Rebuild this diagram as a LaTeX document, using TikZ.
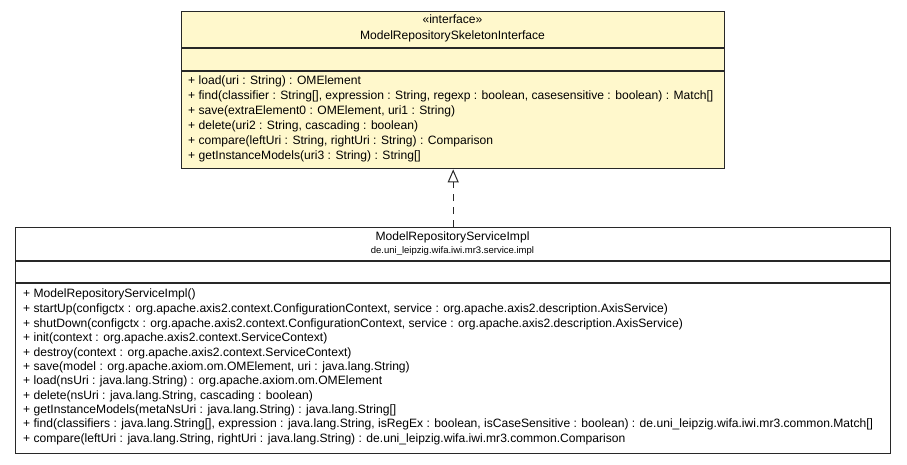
\documentclass[tikz,border=0pt]{standalone}
\usepackage{fontspec}
\setmainfont{Liberation Sans}
\usetikzlibrary{arrows.meta}
\definecolor{ifacefill}{RGB}{255,248,204}
\definecolor{boxline}{RGB}{40,40,40}
\begin{document}
\begin{tikzpicture}[x=1pt,y=-1pt,
  umlbox/.style={draw=boxline, line width=1.4pt, rectangle, inner sep=0pt, anchor=north west},
  sep/.style={draw=boxline, line width=1.4pt},
  member/.style={anchor=west, inner sep=0pt, font=\fontsize{12.1}{13}\selectfont},
  title/.style={anchor=center, inner sep=0pt, font=\fontsize{12.1}{13}\selectfont},
  pkg/.style={anchor=center, inner sep=0pt, font=\fontsize{9.5}{10}\selectfont},
  realize/.style={draw=boxline, line width=1pt, dash pattern=on 7pt off 6pt, -{Triangle[open, length=13pt, width=11pt, line width=1pt]}}
]
\useasboundingbox[fill=white] (0,0) rectangle (907,464);
% interface box
\node[umlbox, fill=ifacefill, minimum width=543pt, minimum height=157pt] (iface) at (181,11) {};
\draw[sep] (181,48) coordinate (ia) -- (724,48) coordinate (ib);
\draw[sep] (181,71) coordinate (ic) -- (724,71) coordinate (id);
\node[title] (ist) at (452.5,19) {«interface»};
\node[title] (iname) at (452.5,36) {ModelRepositorySkeletonInterface};
\node[member] (im1) at (188,81) {+ load(uri : String) : OMElement};
\node[member] (im2) at (188,96) {+ find(classifier : String[], expression : String, regexp : boolean, casesensitive : boolean) : Match[]};
\node[member] (im3) at (188,111) {+ save(extraElement0 : OMElement, uri1 : String)};
\node[member] (im4) at (188,126) {+ delete(uri2 : String, cascading : boolean)};
\node[member] (im5) at (188,141) {+ compare(leftUri : String, rightUri : String) : Comparison};
\node[member] (im6) at (188,156) {+ getInstanceModels(uri3 : String) : String[]};
% implementation box
\node[umlbox, fill=white, minimum width=875pt, minimum height=226pt] (impl) at (15,227) {};
\draw[sep] (15,261) coordinate (pa) -- (890,261) coordinate (pb);
\draw[sep] (15,283) coordinate (pc) -- (890,283) coordinate (pd);
\node[title] (pname) at (452.5,237) {ModelRepositoryServiceImpl};
\node[pkg] (ppkg) at (452.5,251) {de.uni\_leipzig.wifa.iwi.mr3.service.impl};
\node[member] (pm1) at (23,294) {+ ModelRepositoryServiceImpl()};
\node[member] (pm2) at (23,309) {+ startUp(configctx : org.apache.axis2.context.ConfigurationContext, service : org.apache.axis2.description.AxisService)};
\node[member] (pm3) at (23,324) {+ shutDown(configctx : org.apache.axis2.context.ConfigurationContext, service : org.apache.axis2.description.AxisService)};
\node[member] (pm4) at (23,338) {+ init(context : org.apache.axis2.context.ServiceContext)};
\node[member] (pm5) at (23,353) {+ destroy(context : org.apache.axis2.context.ServiceContext)};
\node[member] (pm6) at (23,367) {+ save(model : org.apache.axiom.om.OMElement, uri : java.lang.String)};
\node[member] (pm7) at (23,381) {+ load(nsUri : java.lang.String) : org.apache.axiom.om.OMElement};
\node[member] (pm8) at (23,396) {+ delete(nsUri : java.lang.String, cascading : boolean)};
\node[member] (pm9) at (23,410) {+ getInstanceModels(metaNsUri : java.lang.String) : java.lang.String[]};
\node[member] (pm10) at (23,424) {+ find(classifiers : java.lang.String[], expression : java.lang.String, isRegEx : boolean, isCaseSensitive : boolean) : de.uni\_leipzig.wifa.iwi.mr3.common.Match[]};
\node[member] (pm11) at (23,439) {+ compare(leftUri : java.lang.String, rightUri : java.lang.String) : de.uni\_leipzig.wifa.iwi.mr3.common.Comparison};
% realization
\draw[realize] (impl.north) -- (iface.south);
\end{tikzpicture}
\end{document}
